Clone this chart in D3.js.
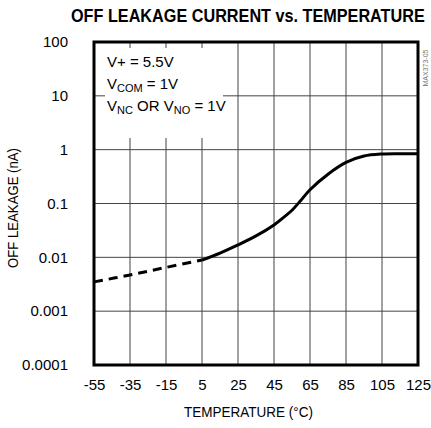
<!DOCTYPE html>
<meta charset='utf-8'>
<style>
  body { margin: 0; background: #fff; }
  svg { font-family: 'Liberation Sans', Arial, sans-serif; }
  .tick text { font-size: 15px; fill: #000; }
  .grid line { stroke: #444; stroke-width: 1; }
</style>
<body>
<div id='viz'></div>
<script src='https://d3js.org/d3.v7.min.js'></script>
<script>

// Temperature (°C) and off leakage (nA)
var temps   = [-55, -35, -15, 5, 15, 25, 35, 45, 50, 55, 60, 65, 75, 85, 95, 105, 115, 125];
var leakage = [0.0035, 0.0047, 0.0065, 0.0089, 0.012, 0.017, 0.025, 0.040, 0.054, 0.075,
               0.115, 0.18, 0.35, 0.58, 0.76, 0.83, 0.84, 0.84];
// measured only down to 5 °C, extrapolated (dashed) below
var dashedUpTo = 5;

var xTicks = [-55, -35, -15, 5, 25, 45, 65, 85, 105, 125];
var yTicks = [0.0001, 0.001, 0.01, 0.1, 1, 10, 100];
var yTickLabels = ['0.0001', '0.001', '0.01', '0.1', '1', '10', '100'];

var W = 431, H = 428;
var margin = {top: 42, right: 13, bottom: 63, left: 94},
    width = W - margin.left - margin.right,
    height = H - margin.top - margin.bottom;

var x = d3.scaleLinear().domain([-55, 125]).range([0, width]);
var y = d3.scaleLog().domain([0.0001, 100]).range([height, 0]);

var svg = d3.select('#viz').append('svg')
    .attr('width', W)
    .attr('height', H);

// squeeze a text horizontally to a given width (no condensed face installed)
function squeeze(sel, px, py, w, rot) {
  var len = sel.node().getComputedTextLength();
  sel.attr('transform', 'translate(' + px + ',' + py + ')' + (rot ? ' rotate(' + rot + ')' : '') +
    ' scale(' + (w / len) + ',1)');
}

// title
var title = svg.append('text')
    .attr('font-weight', 'bold')
    .attr('font-size', 18)
    .text('OFF LEAKAGE CURRENT vs. TEMPERATURE');
squeeze(title, 71, 22, 354);

var g = svg.append('g')
    .attr('transform', 'translate(' + margin.left + ',' + margin.top + ')');

// grid
g.append('g')
    .attr('class', 'grid')
    .selectAll('line.v')
    .data(xTicks.slice(1, -1))
    .enter().append('line')
    .attr('x1', function(d) { return x(d); })
    .attr('x2', function(d) { return x(d); })
    .attr('y1', 0)
    .attr('y2', height);

g.append('g')
    .attr('class', 'grid')
    .selectAll('line.h')
    .data(yTicks.slice(1, -1))
    .enter().append('line')
    .attr('x1', 0)
    .attr('x2', width)
    .attr('y1', function(d) { return y(d); })
    .attr('y2', function(d) { return y(d); });

// axes (labels only)
var xAxis = g.append('g')
    .attr('transform', 'translate(0,' + height + ')')
    .call(d3.axisBottom(x).tickValues(xTicks).tickSize(0).tickPadding(14)
      .tickFormat(function(d) { return String(d); }));
xAxis.select('.domain').remove();

var yAxis = g.append('g')
    .call(d3.axisLeft(y).tickValues(yTicks).tickSize(0).tickPadding(26)
      .tickFormat(function(d, i) { return yTickLabels[i]; }));
yAxis.select('.domain').remove();

// white box behind the conditions text
g.append('rect')
    .attr('x', 11)
    .attr('y', 6)
    .attr('width', 118)
    .attr('height', 90)
    .attr('fill', '#fff');

var note = g.append('text')
    .attr('font-size', 15)
    .attr('fill', '#000');
note.append('tspan').attr('x', 13).attr('y', 25).text('V+ = 5.5V');
var l2 = note.append('tspan').attr('x', 13).attr('y', 47);
l2.append('tspan').text('V');
l2.append('tspan').attr('font-size', 11).attr('dy', 3).text('COM');
l2.append('tspan').attr('dy', -3).text(' = 1V');
var l3 = note.append('tspan').attr('x', 13).attr('y', 69);
l3.append('tspan').text('V');
l3.append('tspan').attr('font-size', 11).attr('dy', 3).text('NC');
l3.append('tspan').attr('dy', -3).text(' OR V');
l3.append('tspan').attr('font-size', 11).attr('dy', 3).text('NO');
l3.append('tspan').attr('dy', -3).text(' = 1V');

// curve
var pts = temps.map(function(t, i) { return {t: t, v: leakage[i]}; });
var line = d3.line()
    .x(function(d) { return x(d.t); })
    .y(function(d) { return y(d.v); })
    .curve(d3.curveCatmullRom.alpha(0.5));

g.append('path')
    .datum(pts.filter(function(d) { return d.t <= dashedUpTo; }))
    .attr('d', line)
    .attr('fill', 'none')
    .attr('stroke', '#000')
    .attr('stroke-width', 3)
    .attr('stroke-dasharray', '9,6');

g.append('path')
    .datum(pts.filter(function(d) { return d.t >= dashedUpTo; }))
    .attr('d', line)
    .attr('fill', 'none')
    .attr('stroke', '#000')
    .attr('stroke-width', 3);

// frame
g.append('rect')
    .attr('width', width)
    .attr('height', height)
    .attr('fill', 'none')
    .attr('stroke', '#000')
    .attr('stroke-width', 3);

// axis titles
var xTitle = svg.append('text')
    .attr('font-size', 15)
    .text('TEMPERATURE (°C)');
squeeze(xTitle, 184, 417, 129);

var yTitle = svg.append('text')
    .attr('font-size', 15)
    .text('OFF LEAKAGE (nA)');
squeeze(yTitle, 18, 268, 120, -90);

// part code
svg.append('text')
    .attr('transform', 'translate(428,68) rotate(-90)')
    .attr('text-anchor', 'middle')
    .attr('font-size', 7)
    .attr('fill', '#777')
    .text('MAX373-05');

</script>
</body>
